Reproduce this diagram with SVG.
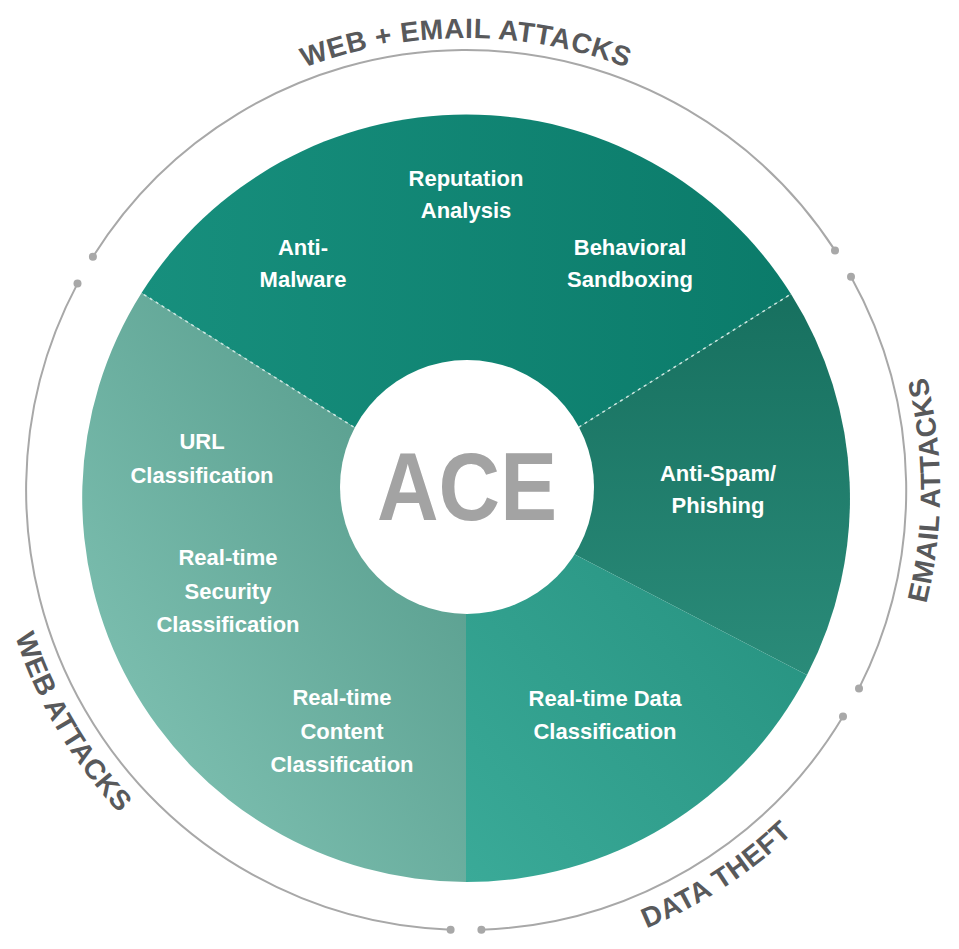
<svg xmlns="http://www.w3.org/2000/svg" width="959" height="949" viewBox="0 0 959 949">
<defs>
<style>
.lbl{font-family:"Liberation Sans",Arial,sans-serif;font-weight:bold;font-size:22px;fill:#fff;text-anchor:middle}
.ring{fill:none;stroke:#a8a8a8;stroke-width:2}
.dot{fill:#a8a8a8}
.ttl{font-family:"Liberation Sans",Arial,sans-serif;font-weight:bold;font-size:28px;fill:#58595b;letter-spacing:0.5px}
.dash{stroke:#cfe8e2;stroke-width:1.5;stroke-dasharray:3 4}
</style>
<linearGradient id="gTop" x1="0" y1="0" x2="1" y2="0"><stop offset="0" stop-color="#178f7d"/><stop offset="1" stop-color="#0b7b6a"/></linearGradient>
<linearGradient id="gRight" x1="0" y1="0" x2="0" y2="1"><stop offset="0" stop-color="#17705f"/><stop offset="1" stop-color="#2a8b79"/></linearGradient>
<linearGradient id="gBR" x1="0" y1="1" x2="1" y2="0"><stop offset="0" stop-color="#3aaa98"/><stop offset="1" stop-color="#248f7d"/></linearGradient>
<linearGradient id="gLeft" x1="1" y1="0" x2="0" y2="1"><stop offset="0" stop-color="#4f9585"/><stop offset="1" stop-color="#86c8b9"/></linearGradient>
<path id="tpTop" d="M240,98.6 A452,452 0 0 1 692,98.6"/>
<path id="tpRight" d="M854.3,762 A474,474 0 0 0 854.3,218"/>
<path id="tpBot" d="M548.3,956.8 A474,474 0 0 0 859,755"/>
<path id="tpLeft" d="M-8,490 A474,474 0 0 0 236.3,904.6"/>
</defs>
<rect width="959" height="949" fill="#fff"/>
<g id="sectors">
<path id="sec-top" d="M466,498 L141.5,293 A384,384 0 0 1 791,294 Z" fill="url(#gTop)"/>
<path id="sec-right" d="M466,498 L791,294 A384,384 0 0 1 807,675 Z" fill="url(#gRight)"/>
<path id="sec-br" d="M466,498 L807,675 A384,384 0 0 1 466,882 Z" fill="url(#gBR)"/>
<path id="sec-left" d="M466,498 L466,882 A384,384 0 0 1 141.5,293 Z" fill="url(#gLeft)"/>
</g>
<g id="connectors">
<line class="dash" x1="466" y1="498" x2="141.5" y2="293"/>
<line class="dash" x1="466" y1="498" x2="791" y2="294"/>
</g>
<g id="ace"><circle cx="467" cy="487" r="127" fill="#fff"/>
<text x="467" y="520" font-family="Liberation Sans,Arial,sans-serif" font-weight="bold" font-size="96" fill="#a3a3a3" text-anchor="middle" textLength="180" lengthAdjust="spacingAndGlyphs">ACE</text></g>
<g id="labels">
<text class="lbl" x="466" y="186">Reputation</text><text class="lbl" x="466" y="218">Analysis</text>
<text class="lbl" x="303" y="255">Anti-</text><text class="lbl" x="303" y="287">Malware</text>
<text class="lbl" x="630" y="255">Behavioral</text><text class="lbl" x="630" y="287">Sandboxing</text>
<text class="lbl" x="202" y="449">URL</text><text class="lbl" x="202" y="483">Classification</text>
<text class="lbl" x="228" y="565">Real-time</text><text class="lbl" x="228" y="599">Security</text><text class="lbl" x="228" y="632">Classification</text>
<text class="lbl" x="342" y="705">Real-time</text><text class="lbl" x="342" y="739">Content</text><text class="lbl" x="342" y="772">Classification</text>
<text class="lbl" x="605" y="706">Real-time Data</text><text class="lbl" x="605" y="739">Classification</text>
<text class="lbl" x="718" y="481">Anti-Spam/</text><text class="lbl" x="718" y="513">Phishing</text>
</g>
<g id="ring">
<path class="ring" d="M92.9,256.8 A440,440 0 0 1 835,250.4"/>
<path class="ring" d="M851,276.7 A440,440 0 0 1 859,688.4"/>
<path class="ring" d="M843,716.6 A440,440 0 0 1 481.4,929.7"/>
<path class="ring" d="M450.6,929.7 A440,440 0 0 1 77.5,283.6"/>
<circle class="dot" cx="92.9" cy="256.8" r="4"/><circle class="dot" cx="835" cy="250.4" r="4"/>
<circle class="dot" cx="851" cy="276.7" r="4"/><circle class="dot" cx="859" cy="688.4" r="4"/>
<circle class="dot" cx="843" cy="716.6" r="4"/><circle class="dot" cx="481.4" cy="929.7" r="4"/>
<circle class="dot" cx="450.6" cy="929.7" r="4"/><circle class="dot" cx="77.5" cy="283.6" r="4"/>
</g>
<g id="titles">
<text class="ttl"><textPath href="#tpTop" startOffset="50%" text-anchor="middle">WEB + EMAIL ATTACKS</textPath></text>
<text class="ttl"><textPath href="#tpRight" startOffset="50%" text-anchor="middle">EMAIL ATTACKS</textPath></text>
<text class="ttl"><textPath href="#tpBot" startOffset="50%" text-anchor="middle">DATA THEFT</textPath></text>
<text class="ttl"><textPath href="#tpLeft" startOffset="50%" text-anchor="middle">WEB ATTACKS</textPath></text>
</g>
</svg>
